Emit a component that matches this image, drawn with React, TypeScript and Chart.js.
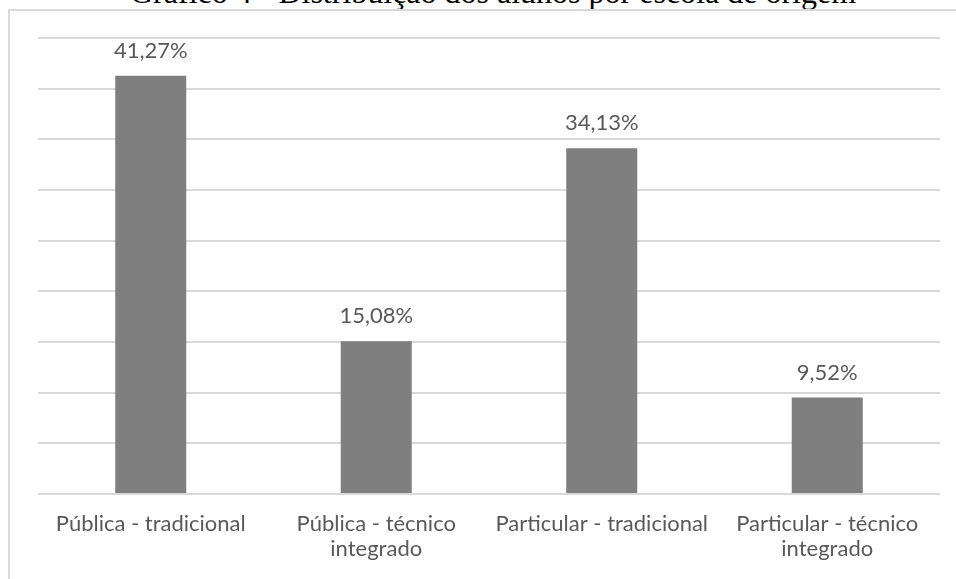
import React, { useEffect, useRef } from "react";
import { Chart, registerables } from "chart.js";

Chart.register(...registerables);

const TITLE = "Gráfico 4 - Distribuição dos alunos por escola de origem";
const categories: (string | string[])[] = [
  "Pública - tradicional",
  ["Pública - técnico", "integrado"],
  "Particular - tradicional",
  ["Particular - técnico", "integrado"],
];
const values: number[] = [41.27, 15.08, 34.13, 9.52];
const yMin = 0;
const yMax = 45;
const yStep = 5;

const TEXT_COLOR = "#595959";
const BAR_COLOR = "#7f7f7f";
const GRID_COLOR = "#d9d9d9";
const FONT = "Lato";

const fmt = (v: number) => v.toFixed(2).replace(".", ",") + "%";

const valueLabels = {
  id: "valueLabels",
  afterDatasetsDraw(chart: any) {
    const ctx = chart.ctx;
    const meta = chart.getDatasetMeta(0);
    ctx.save();
    ctx.fillStyle = TEXT_COLOR;
    ctx.font = `22px ${FONT}`;
    ctx.textAlign = "center";
    ctx.textBaseline = "alphabetic";
    meta.data.forEach((bar: any, i: number) => {
      const v = chart.data.datasets[0].data[i] as number;
      ctx.fillText(fmt(v), bar.x, bar.y - 18);
    });
    ctx.restore();
  },
};

export default function App() {
  const ref = useRef<HTMLCanvasElement | null>(null);

  useEffect(() => {
    if (!ref.current) return;
    const chart = new Chart(ref.current, {
      type: "bar",
      data: {
        labels: categories,
        datasets: [
          {
            data: values,
            backgroundColor: BAR_COLOR,
            borderWidth: 0,
            barPercentage: 0.315,
            categoryPercentage: 1,
          },
        ],
      },
      options: {
        animation: false,
        responsive: false,
        events: [],
        layout: { padding: { left: 38, right: 16, top: 38, bottom: 0 } },
        plugins: {
          legend: { display: false },
          tooltip: { enabled: false },
          title: { display: false },
        },
        scales: {
          x: {
            grid: { display: false, drawTicks: false },
            border: { display: false },
            ticks: {
              color: TEXT_COLOR,
              font: { family: FONT, size: 22, lineHeight: 1.12 },
              padding: 18,
              maxRotation: 0,
              autoSkip: false,
            },
            afterFit: (scale: any) => {
              scale.height = 85;
            },
          },
          y: {
            min: yMin,
            max: yMax,
            grid: { color: GRID_COLOR, lineWidth: 2, drawTicks: false },
            border: { display: false },
            ticks: { display: false, stepSize: yStep },
            afterFit: (scale: any) => {
              scale.width = 0;
            },
          },
        },
      },
      plugins: [valueLabels],
    });
    return () => chart.destroy();
  }, []);

  return (
    <div
      style={{
        position: "fixed",
        left: 0,
        top: 0,
        width: 956,
        height: 579,
        overflow: "hidden",
        background: "#ffffff",
      }}
    >
      <div
        style={{
          position: "absolute",
          left: 130,
          top: -24,
          whiteSpace: "nowrap",
          fontFamily: '"Liberation Serif", "Times New Roman", serif',
          fontSize: 32,
          lineHeight: "32px",
          color: "#000000",
        }}
      >
        {TITLE}
      </div>
      <div
        style={{
          position: "absolute",
          left: 8,
          top: 9,
          width: 2000,
          height: 2000,
          borderLeft: `2px solid ${GRID_COLOR}`,
          borderTop: `2px solid ${GRID_COLOR}`,
        }}
      />
      <canvas
        ref={ref}
        width={956}
        height={579}
        style={{ position: "absolute", left: 0, top: 0, width: 956, height: 579 }}
      />
    </div>
  );
}
